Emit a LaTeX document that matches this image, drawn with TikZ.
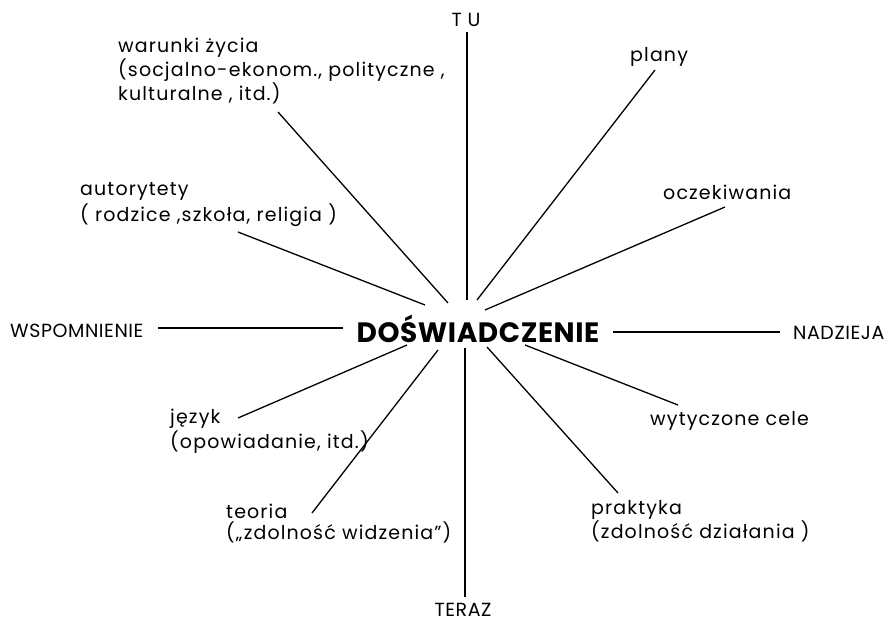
\documentclass[tikz,border=0pt]{standalone}
\usepackage{fontspec}
\setmainfont{Poppins}
\usetikzlibrary{positioning}

\begin{document}
\begin{tikzpicture}
[x=1pt, y=-1pt,
lab/.style={anchor=base west, align=left, inner sep=0pt, font=\fontsize{19}{20}\selectfont\addfontfeatures{LetterSpace=6}},
pole/.style={inner sep=0pt, font=\fontsize{19}{18}\selectfont\addfontfeatures{LetterSpace=3}},
ray/.style={line width=1.3pt},
axis/.style={line width=1.1pt},]
    \useasboundingbox (0,0) rectangle (889,621);
    % centre word
    \node (exp) [anchor=base, inner sep=0pt, font=\fontsize{28}{32}\selectfont\bfseries\addfontfeatures{LetterSpace=2}] at (478,342) {DOŚWIADCZENIE};
    % the four poles
    \node (tu) [pole, anchor=base] at (466,27) {T U};
    \node (teraz) [pole, anchor=base] at (463,616) {TERAZ};
    \node (wsp) [pole, anchor=base west] at (10,337) {WSPOMNIENIE};
    \node (nadz) [pole, anchor=base west] at (793,339) {NADZIEJA};
    % labels round the centre (base = last line)
    \node (war) [lab] at (118,100) {warunki życia\\(socjalno-ekonom., polityczne ,\\kulturalne , itd.)};
    \node (aut) [lab, font=\fontsize{19}{26}\selectfont\addfontfeatures{LetterSpace=6}] at (80,221) {autorytety\\( rodzice ,szkoła, religia )};
    \node (plany) [lab] at (630,61) {plany};
    \node (ocz) [lab] at (663,199) {oczekiwania};
    \node (jez) [lab, font=\fontsize{19}{25}\selectfont\addfontfeatures{LetterSpace=6}] at (170,448) {język\\(opowiadanie, itd.)};
    \node (teo) [lab, font=\fontsize{19}{21}\selectfont\addfontfeatures{LetterSpace=6}] at (226,539) {teoria\\(„zdolność widzenia”)};
    \node (prak) [lab, font=\fontsize{19}{24}\selectfont\addfontfeatures{LetterSpace=6}] at (591,538) {praktyka\\(zdolność działania )};
    \node (cele) [lab] at (650,425) {wytyczone cele};

    % ends of the rays
    \coordinate (tu-out) at (467,32);
    \coordinate (tu-in) at (467,300);
    \coordinate (teraz-in) at (465,348);
    \coordinate (teraz-out) at (465,597);
    \coordinate (wsp-out) at (158,328);
    \coordinate (wsp-in) at (343,328);
    \coordinate (nadz-in) at (613,332);
    \coordinate (nadz-out) at (780,332);
    \coordinate (war-out) at (278,112);
    \coordinate (war-in) at (448,303);
    \coordinate (aut-out) at (238,232);
    \coordinate (aut-in) at (425,305);
    \coordinate (plany-out) at (655,70);
    \coordinate (plany-in) at (477,300);
    \coordinate (ocz-out) at (725,207);
    \coordinate (ocz-in) at (485,310);
    \coordinate (jez-out) at (238,418);
    \coordinate (jez-in) at (407,345);
    \coordinate (teo-out) at (312,513);
    \coordinate (teo-in) at (438,350);
    \coordinate (prak-out) at (618,493);
    \coordinate (prak-in) at (487,347);
    \coordinate (cele-out) at (678,405);
    \coordinate (cele-in) at (525,345);

    \draw[axis] (tu-out) -- (tu-in);
    \draw[axis] (teraz-in) -- (teraz-out);
    \draw[axis] (wsp-out) -- (wsp-in);
    \draw[axis] (nadz-in) -- (nadz-out);
    \draw[ray] (war-out) -- (war-in);
    \draw[ray] (aut-out) -- (aut-in);
    \draw[ray] (plany-out) -- (plany-in);
    \draw[ray] (ocz-out) -- (ocz-in);
    \draw[ray] (jez-out) -- (jez-in);
    \draw[ray] (teo-out) -- (teo-in);
    \draw[ray] (prak-out) -- (prak-in);
    \draw[ray] (cele-out) -- (cele-in);
\end{tikzpicture}
\end{document}
